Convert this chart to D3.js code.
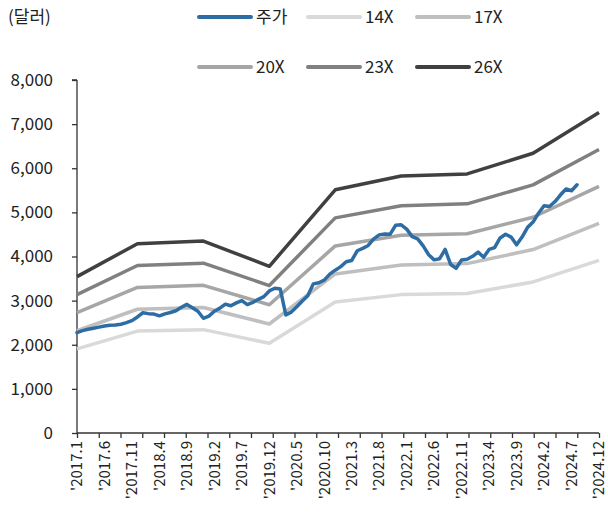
<!DOCTYPE html>
<html>
<head>
<meta charset="utf-8">
<script src="https://cdn.jsdelivr.net/npm/d3@7"></script>
<style>
  body { margin: 0; background: #fff; }
  text { font-family: "Noto Sans CJK KR", "Noto Sans", sans-serif; fill: #222; }
</style>
</head>
<body>
<script>
const width = 608, height = 517;

// monthly index: 0 = 2017.1 ... 95 = 2024.12
const xLabels = ["'2017.1", "'2017.6", "'2017.11", "'2018.4", "'2018.9", "'2019.2", "'2019.7", "'2019.12",
  "'2020.5", "'2020.10", "'2021.3", "'2021.8", "'2022.1", "'2022.6", "'2022.11", "'2023.4", "'2023.9",
  "'2024.2", "'2024.7", "'2024.12"];

// price (주가), monthly from 2017.1 to 2024.8
const price = [
  2275, 2320, 2350, 2374, 2400, 2425, 2442, 2447, 2465, 2500, 2547, 2630,
  2725, 2705, 2695, 2655, 2700, 2730, 2770, 2850, 2915, 2840, 2760, 2600,
  2650, 2760, 2830, 2920, 2885, 2950, 3000, 2910, 2960, 3030, 3090, 3220,
  3280, 3262, 2676, 2740, 2860, 2990, 3110, 3380, 3405, 3465, 3600, 3690,
  3770, 3880, 3910, 4130, 4185, 4250, 4400, 4490, 4510, 4506, 4710, 4717,
  4620, 4450, 4400, 4240, 4040, 3924, 3950, 4160, 3820, 3735, 3920, 3939,
  4005, 4100, 3984, 4160, 4200, 4420, 4505, 4440, 4264, 4440, 4660, 4780,
  4982, 5150, 5133, 5246, 5398, 5530, 5490, 5625
];

// PER band vertices (2017.1, then each December)
const bandIdx = [0, 11, 23, 35, 47, 59, 71, 83, 95];
const band14 = [1908, 2310, 2342, 2034, 2968, 3136, 3161, 3423, 3912];
const band17 = [2317, 2805, 2844, 2470, 3604, 3808, 3839, 4157, 4750];
const band20 = [2726, 3300, 3346, 2906, 4240, 4480, 4516, 4890, 5588];
const band23 = [3135, 3795, 3848, 3342, 4876, 5152, 5193, 5624, 6426];
const band26 = [3544, 4290, 4350, 3778, 5512, 5824, 5871, 6340, 7264];

const yTicks = [0, 1000, 2000, 3000, 4000, 5000, 6000, 7000, 8000];

const series = [
  { name: "14X", values: band14, color: "#d9d9d9" },
  { name: "17X", values: band17, color: "#bfbfbf" },
  { name: "20X", values: band20, color: "#a6a6a6" },
  { name: "23X", values: band23, color: "#808080" },
  { name: "26X", values: band26, color: "#404040" }
];
const priceColor = "#2e6da4";

const margin = { left: 77, right: 9, top: 80, bottom: 84 };

const svg = d3.select("body").append("svg")
  .attr("width", width)
  .attr("height", height);

const x = d3.scaleLinear().domain([0, 95]).range([margin.left, width - margin.right]);
const y = d3.scaleLinear().domain([0, 8000]).range([height - margin.bottom, margin.top]);

// y axis
const yAxis = svg.append("g")
  .attr("transform", `translate(${margin.left},0)`)
  .call(d3.axisLeft(y).tickValues(yTicks).tickSize(5).tickPadding(19).tickFormat(d3.format(",")));
yAxis.selectAll("text").attr("font-size", "17px").attr("font-family", null);
yAxis.selectAll("line, path").attr("stroke", "#333").attr("stroke-width", 1.3);
yAxis.select(".domain").attr("d", `M0,${y(0)}V${y(8000)}M-5,${y(8000)}H0`);

// x axis: 25 tick marks, labels every 5 months
const tickIdx = d3.range(25).map(i => i * 95 / 24);
const xAxis = svg.append("g")
  .attr("transform", `translate(0,${y(0)})`)
  .call(d3.axisBottom(x).tickValues(tickIdx).tickSize(5).tickFormat(""));
xAxis.selectAll("line, path").attr("stroke", "#333").attr("stroke-width", 1.3);
xAxis.select(".domain").attr("d", `M${x(0)},0H${x(95)}`);

svg.append("g")
  .selectAll("text")
  .data(xLabels)
  .join("text")
  .attr("transform", (d, i) => `translate(${Math.min(x(i * 5), 599)},${y(0) + 8}) rotate(-90)`)
  .attr("text-anchor", "end")
  .attr("dy", "0.35em")
  .attr("font-size", "15px")
  .text(d => d);

// band lines
const line = d3.line().x(d => x(d[0])).y(d => y(d[1]));
svg.append("g")
  .selectAll("path")
  .data(series)
  .join("path")
  .attr("fill", "none")
  .attr("stroke", d => d.color)
  .attr("stroke-width", 3.5)
  .attr("stroke-linejoin", "round")
  .attr("d", d => line(d.values.map((v, i) => [bandIdx[i], v])));

// price line
svg.append("path")
  .attr("fill", "none")
  .attr("stroke", priceColor)
  .attr("stroke-width", 3.5)
  .attr("stroke-linejoin", "round")
  .attr("stroke-linecap", "round")
  .attr("d", line(price.map((v, i) => [i, v])));

// unit
svg.append("text")
  .attr("x", 8).attr("y", 23)
  .attr("font-size", "17px")
  .text("(달러)");

// legend
const legendItems = [{ name: "주가", color: priceColor }].concat(series);
const legend = svg.append("g")
  .selectAll("g")
  .data(legendItems)
  .join("g")
  .attr("transform", (d, i) => `translate(${199 + (i % 3) * 109},${i < 3 ? 17 : 67})`);
legend.append("line")
  .attr("x1", 0).attr("x2", 52)
  .attr("stroke", d => d.color)
  .attr("stroke-width", 4)
  .attr("stroke-linecap", "round");
legend.append("text")
  .attr("x", 57)
  .attr("dy", "0.35em")
  .attr("font-size", "17px")
  .text(d => d.name);
</script>
</body>
</html>
